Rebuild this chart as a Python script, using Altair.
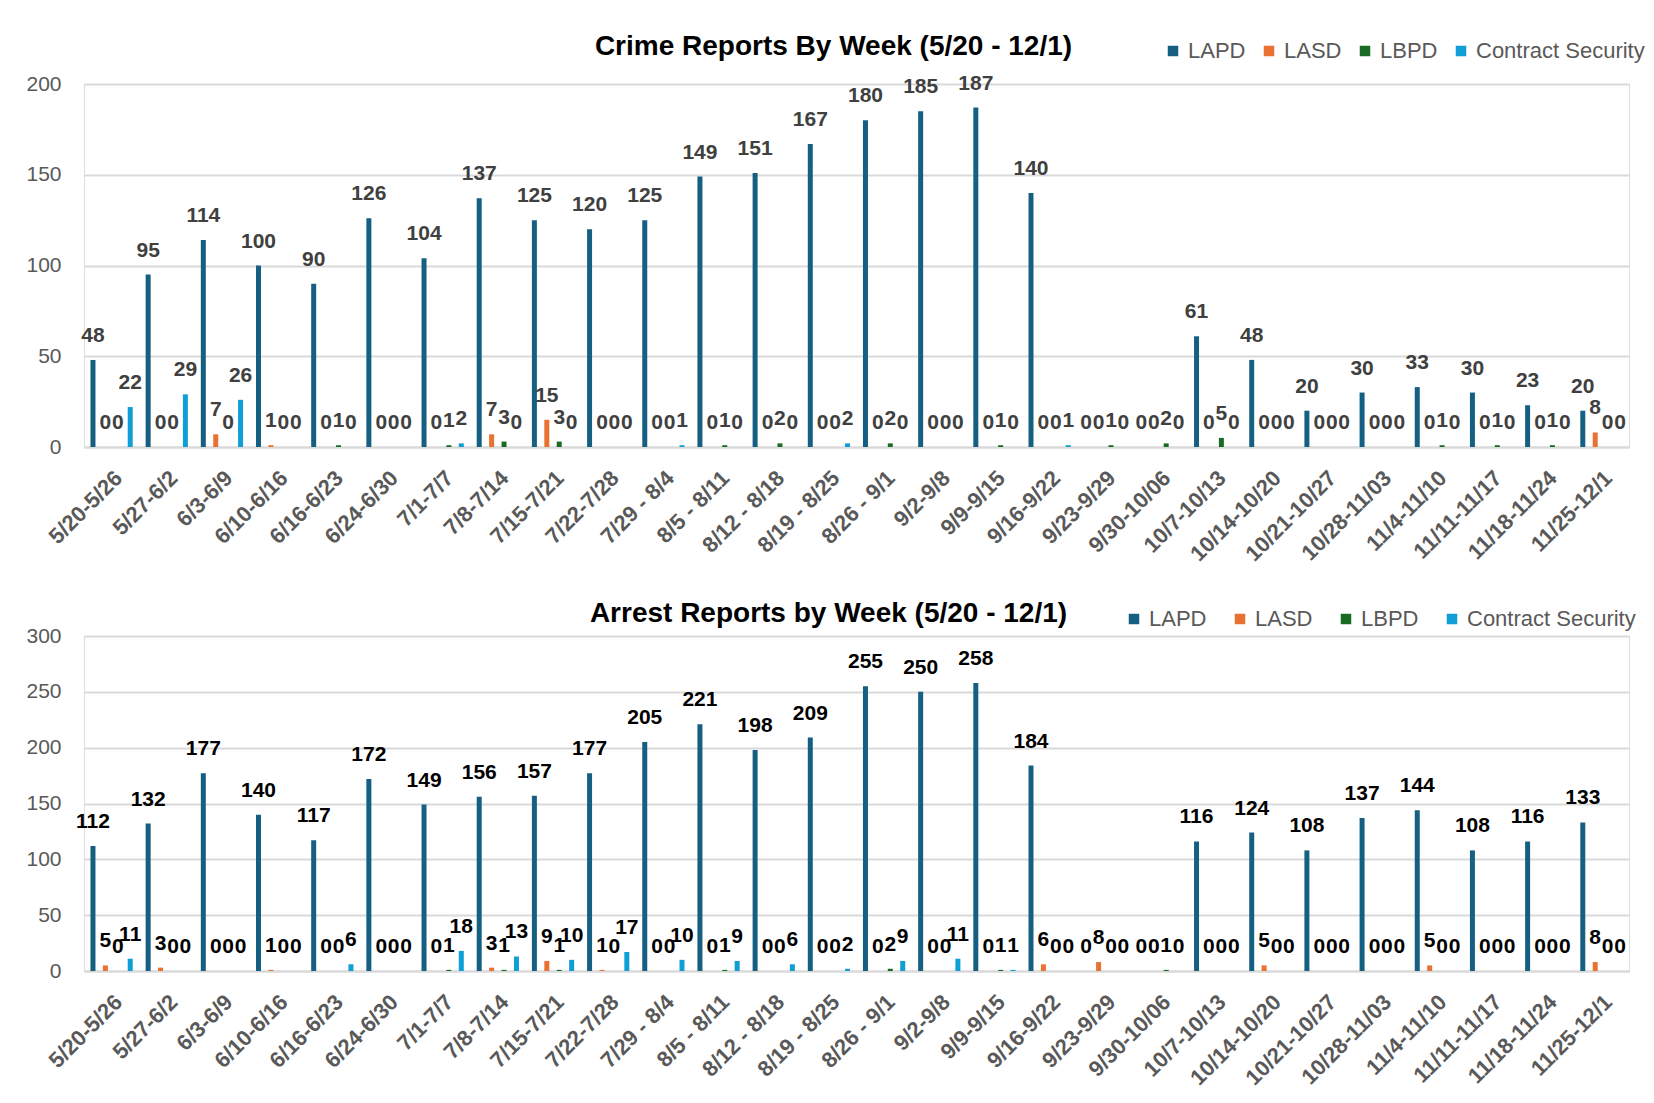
import altair as alt
import pandas as pd

weeks = ["5/20-5/26", "5/27-6/2", "6/3-6/9", "6/10-6/16", "6/16-6/23", "6/24-6/30",
         "7/1-7/7", "7/8-7/14", "7/15-7/21", "7/22-7/28", "7/29 - 8/4", "8/5 - 8/11",
         "8/12 - 8/18", "8/19 - 8/25", "8/26 - 9/1", "9/2-9/8", "9/9-9/15", "9/16-9/22",
         "9/23-9/29", "9/30-10/06", "10/7-10/13", "10/14-10/20", "10/21-10/27",
         "10/28-11/03", "11/4-11/10", "11/11-11/17", "11/18-11/24", "11/25-12/1"]

series = ["LAPD", "LASD", "LBPD", "Contract Security"]
colors = ["#156082", "#E97132", "#196B24", "#0F9ED5"]

crime_lapd = [48, 95, 114, 100, 90, 126, 104, 137, 125, 120, 125, 149, 151, 167, 180, 185, 187, 140,
              0, 0, 61, 48, 20, 30, 33, 30, 23, 20]
crime_lasd = [0, 0, 7, 1, 0, 0, 0, 7, 15, 0, 0, 0, 0, 0, 0, 0, 0, 0,
              0, 0, 0, 0, 0, 0, 0, 0, 0, 8]
crime_lbpd = [0, 0, 0, 0, 1, 0, 1, 3, 3, 0, 0, 1, 2, 0, 2, 0, 1, 0,
              1, 2, 5, 0, 0, 0, 1, 1, 1, 0]
crime_cs = [22, 29, 26, 0, 0, 0, 2, 0, 0, 0, 1, 0, 0, 2, 0, 0, 0, 1,
            0, 0, 0, 0, 0, 0, 0, 0, 0, 0]

arrest_lapd = [112, 132, 177, 140, 117, 172, 149, 156, 157, 177, 205, 221, 198, 209, 255, 250, 258, 184,
               0, 0, 116, 124, 108, 137, 144, 108, 116, 133]
arrest_lasd = [5, 3, 0, 1, 0, 0, 0, 3, 9, 1, 0, 0, 0, 0, 0, 0, 0, 6,
               8, 0, 0, 5, 0, 0, 5, 0, 0, 8]
arrest_lbpd = [0, 0, 0, 0, 0, 0, 1, 1, 1, 0, 0, 1, 0, 0, 2, 0, 1, 0,
               0, 1, 0, 0, 0, 0, 0, 0, 0, 0]
arrest_cs = [11, 0, 0, 0, 6, 0, 18, 13, 10, 17, 10, 9, 6, 2, 9, 11, 1, 0,
             0, 0, 0, 0, 0, 0, 0, 0, 0, 0]


def to_long(lists):
    rows = []
    for i, w in enumerate(weeks):
        for s, vals in zip(series, lists):
            rows.append({"week": w, "agency": s, "value": vals[i]})
    return pd.DataFrame(rows)


FONT = "Liberation Sans"
PLOT_W = 1545


def panel(df, title, ymax, ticks, height, label_color, legend_x, legend_y, col_pad,
          title_dx, title_offset):
    base = alt.Chart(df).encode(
        x=alt.X("week:N", sort=weeks,
                scale=alt.Scale(paddingInner=0.1, paddingOuter=0.05),
                axis=alt.Axis(title=None, labelAngle=-45, labelFontSize=22, labelFont=FONT,
                              labelFontWeight="bold", labelColor="#595959", ticks=False,
                              domain=True, domainColor="#d9d9d9", domainWidth=2,
                              labelPadding=20, labelOverlap=False)),
        xOffset=alt.XOffset("agency:N", sort=series,
                            scale=alt.Scale(paddingInner=0, paddingOuter=0)),
        y=alt.Y("value:Q", scale=alt.Scale(domain=[0, ymax], nice=False),
                axis=alt.Axis(title=None, values=ticks, labelFontSize=21, labelFont=FONT,
                              labelColor="#595959", ticks=False, domain=False,
                              gridColor="#d9d9d9", gridWidth=2, labelPadding=23,
                              minExtent=70)),
    )
    bars = base.mark_bar(size=5).encode(
        color=alt.Color("agency:N", sort=series,
                        scale=alt.Scale(domain=series, range=colors),
                        legend=alt.Legend(title=None, orient="none", direction="horizontal",
                                          legendX=legend_x, legendY=legend_y,
                                          symbolType="square", symbolSize=110,
                                          symbolStrokeWidth=0,
                                          labelFontSize=22, labelFont=FONT,
                                          labelColor="#595959", columnPadding=col_pad,
                                          labelOffset=4, columns=4, labelLimit=400))
    )
    text = base.mark_text(baseline="alphabetic", dy=-18, fontSize=21, fontWeight="bold",
                          font=FONT, color=label_color).encode(text="value:Q")
    return alt.layer(bars, text).properties(
        width=PLOT_W, height=height,
        title=alt.Title(title, fontSize=28, font=FONT, fontWeight="bold", color="#000000",
                        anchor="middle", frame="group", dx=title_dx, offset=title_offset),
    )


crime = panel(to_long([crime_lapd, crime_lasd, crime_lbpd, crime_cs]),
              "Crime Reports By Week (5/20 - 12/1)", 200, [0, 50, 100, 150, 200], 363,
              "#404040", 1078, -44, 12, -23, -21)
arrest = panel(to_long([arrest_lapd, arrest_lasd, arrest_lbpd, arrest_cs]),
               "Arrest Reports by Week (5/20 - 12/1)", 300, [0, 50, 100, 150, 200, 250, 300], 335,
               "#000000", 1039, -28, 22, -28, -20)

chart = alt.vconcat(crime, arrest, spacing=33).resolve_scale(
    y="independent", color="independent"
).resolve_legend(color="independent").properties(
    padding={"left": 5, "top": 24, "right": 0, "bottom": 5}
).configure_view(stroke=None).configure(background="white")

chart.save("out.html", embed_options={"renderer": "svg", "actions": False})
